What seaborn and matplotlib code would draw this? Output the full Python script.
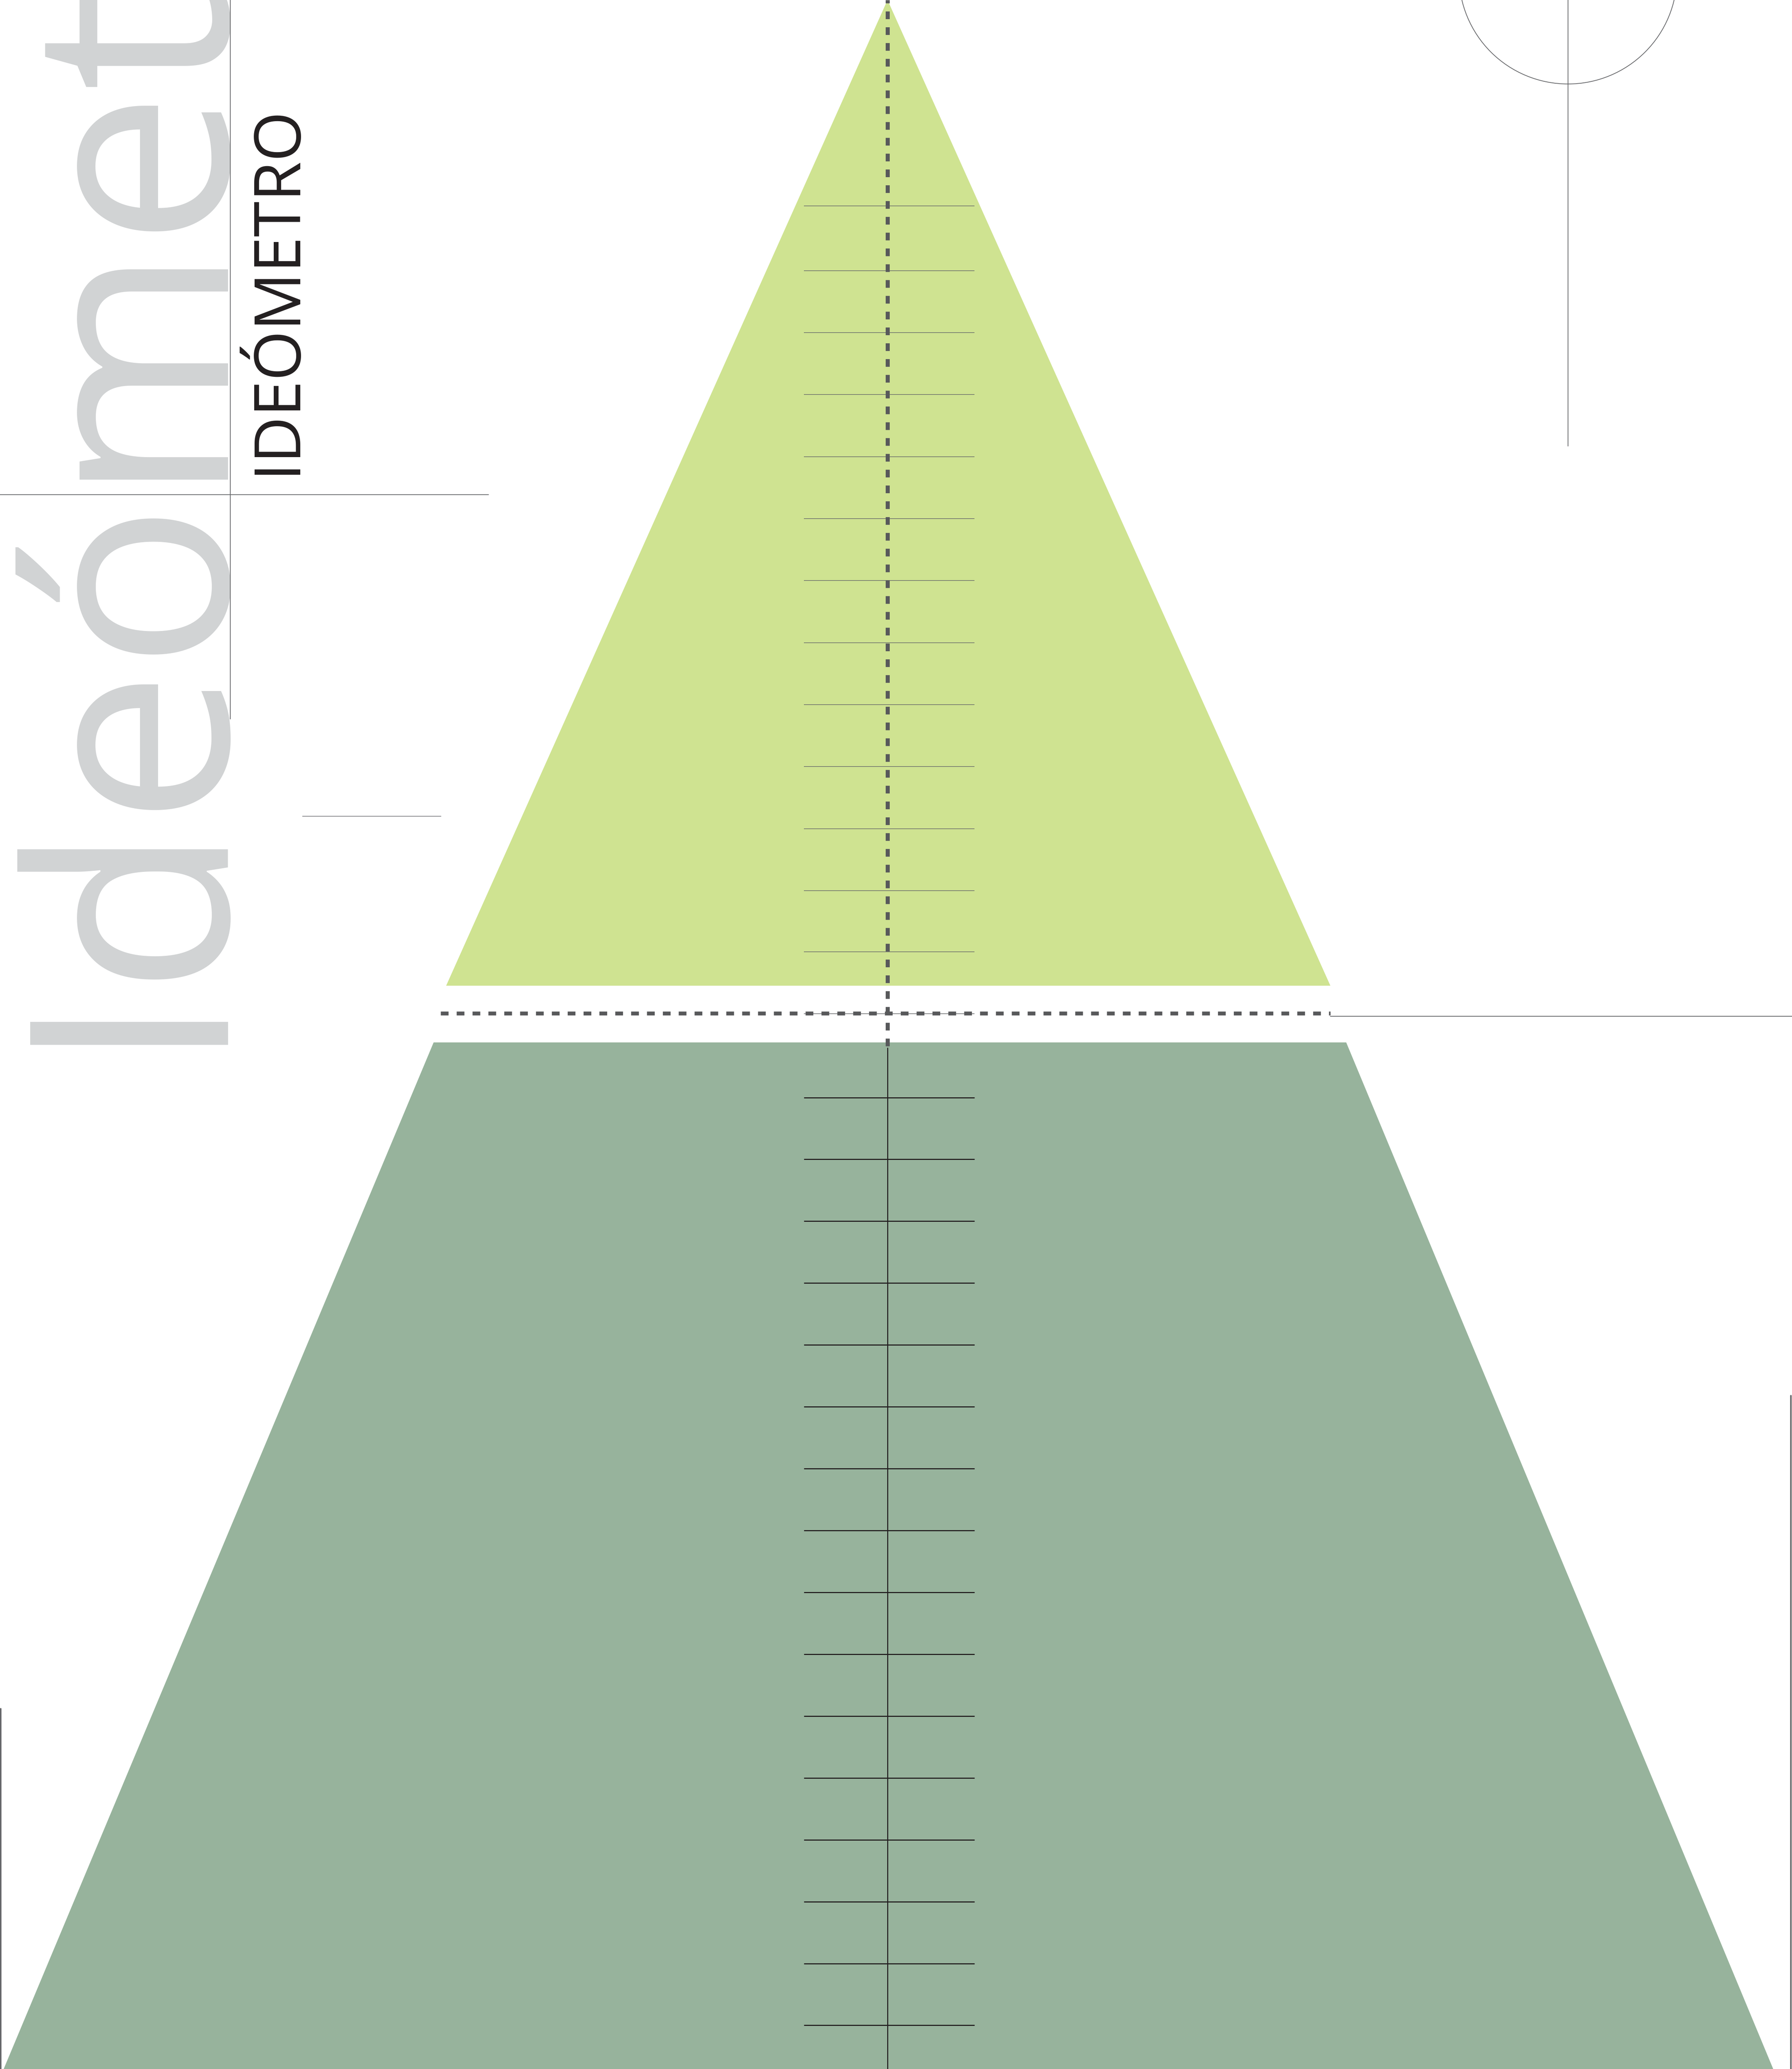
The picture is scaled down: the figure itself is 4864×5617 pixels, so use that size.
import matplotlib
matplotlib.use("Agg")
import matplotlib.pyplot as plt
import seaborn as sns
from matplotlib.patches import Circle

# canvas in pixels (drawn at 72 dpi so 1 pt == 1 px)
W, H = 4864, 5617

# shapes
upper_x = [1211, 2409, 3611]
upper_y = [2676, 0, 2676]
lower_x = [1177, 3654, 4813, 10]
lower_y = [2830, 2830, 5617, 5617]

# scale marks
upper_ticks = [559, 735, 903, 1071, 1240, 1408, 1576, 1745, 1913, 2081, 2250, 2418, 2584, 2752]
lower_ticks = [2980, 3147, 3315, 3483, 3651, 3819, 3987, 4155, 4323, 4491, 4659, 4827, 4995, 5163, 5331, 5498]
tick_left, tick_right = 2182, 2645
axis_x = 2409

big_word = "Ideómetro"
small_word = "IDEÓMETRO"

LIGHT = "#cfe391"
SAGE = "#97b39c"
TEXT_GRAY = "#d1d3d4"
DASH = "#58595b"
LINE = "#66676a"
INK = "#231f20"

sns.set_theme(style="white")
plt.rcParams["font.family"] = ["Open Sans", "DejaVu Sans"]

fig = plt.figure(figsize=(W / 72, H / 72), dpi=72)
ax = fig.add_axes([0, 0, 1, 1])
ax.set_xlim(0, W)
ax.set_ylim(H, 0)
ax.axis("off")

# pyramid
ax.fill(upper_x, upper_y, color=LIGHT, lw=0, zorder=1)
ax.fill(lower_x, lower_y, color=SAGE, lw=0, zorder=1)

# scale ticks
ax.hlines(upper_ticks, tick_left, tick_right, color=LINE, lw=1.6, zorder=2)
ax.hlines(lower_ticks, tick_left, tick_right, color=INK, lw=3, zorder=2)
ax.plot([axis_x, axis_x], [2845, H], color=INK, lw=2.8, zorder=2)

# dashed cross
ax.plot([axis_x, axis_x], [2840, 0], color=DASH, lw=11, ls=(0, (1.9, 2.0)),
        solid_capstyle="butt", zorder=3)
ax.plot([1196, 3611], [2751, 2751], color=DASH, lw=10.5, ls=(0, (2.0, 2.1)),
        zorder=3)

# thin guide lines
ax.plot([3611, W], [2759, 2759], color=LINE, lw=2, zorder=2)
ax.plot([4256, 4256], [0, 1211], color=LINE, lw=2, zorder=2)
ax.add_patch(Circle((4256, -68), 296, fill=False, ec=LINE, lw=2, zorder=2))
ax.plot([625, 625], [0, 1952], color=LINE, lw=2, zorder=2)
ax.plot([0, 1326], [1343, 1343], color=LINE, lw=2, zorder=2)
ax.plot([821, 1197], [2216, 2216], color=LINE, lw=1.5, zorder=2)
ax.plot([2, 2], [4639, H], color=LINE, lw=4, zorder=2)
ax.plot([4861, 4861], [3789, H], color=LINE, lw=4, zorder=2)

# titles
ax.text(547, 2836, big_word, rotation=90, rotation_mode="anchor",
        ha="left", va="baseline", fontsize=752, color=TEXT_GRAY, zorder=0)
ax.text(799, 1288, small_word, rotation=90, rotation_mode="anchor",
        ha="left", va="baseline", fontsize=175, color=INK, zorder=2)

fig.savefig("out.png", dpi=72)
